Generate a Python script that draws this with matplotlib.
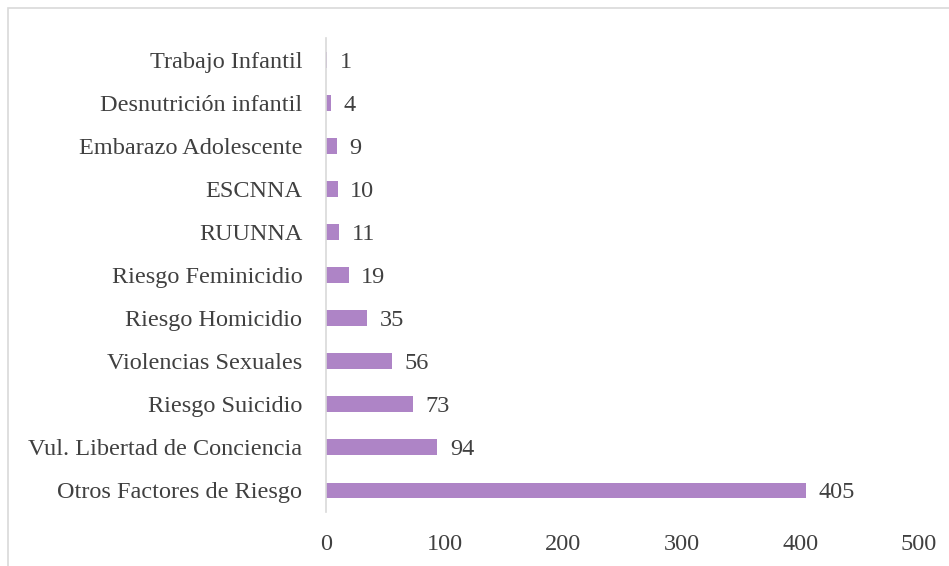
import matplotlib.pyplot as plt
from matplotlib.patches import Rectangle

categories = ['Trabajo Infantil', 'Desnutrición infantil', 'Embarazo Adolescente',
              'ESCNNA', 'RUUNNA', 'Riesgo Feminicidio', 'Riesgo Homicidio',
              'Violencias Sexuales', 'Riesgo Suicidio', 'Vul. Libertad de Conciencia',
              'Otros Factores de Riesgo']
values = [1, 4, 9, 10, 11, 19, 35, 56, 73, 94, 405]
xticks = [0, 100, 200, 300, 400, 500]

bar_color = '#AE84C6'
text_color = '#404040'
plt.rcParams['font.family'] = ['Liberation Serif', 'DejaVu Serif']

fig = plt.figure(figsize=(9.49, 5.66), dpi=100)
ax = fig.add_axes([0.3435, 0.0954, 0.6249, 0.8366])

y = list(range(len(categories)))[::-1]
ax.barh(y, values, height=0.37, color=bar_color)
for yi, v in zip(y, values):
    ax.annotate(str(v), (v, yi), xytext=(9, 0), textcoords='offset points',
                va='center_baseline', ha='left', fontsize=17.5, color=text_color)

ax.set_xlim(0, 500)
ax.set_ylim(-0.5, len(categories) - 0.5)
ax.set_xticks(xticks)
ax.set_yticks(y)
ax.set_yticklabels(categories)
ax.tick_params(axis='both', length=0, labelsize=17.5, colors=text_color)
ax.tick_params(axis='x', pad=16)
ax.tick_params(axis='y', pad=17)
for s in ['top', 'right', 'bottom']:
    ax.spines[s].set_visible(False)
ax.spines['left'].set_color('#D9D9D9')
ax.spines['left'].set_linewidth(1.2)

fig.patches.append(Rectangle((8 / 949, -0.1), 2, 1 - 8 / 566 + 0.1,
                             transform=fig.transFigure, fill=False,
                             edgecolor='#D9D9D9', linewidth=1.2))

fig.savefig('out.png', dpi=100)
